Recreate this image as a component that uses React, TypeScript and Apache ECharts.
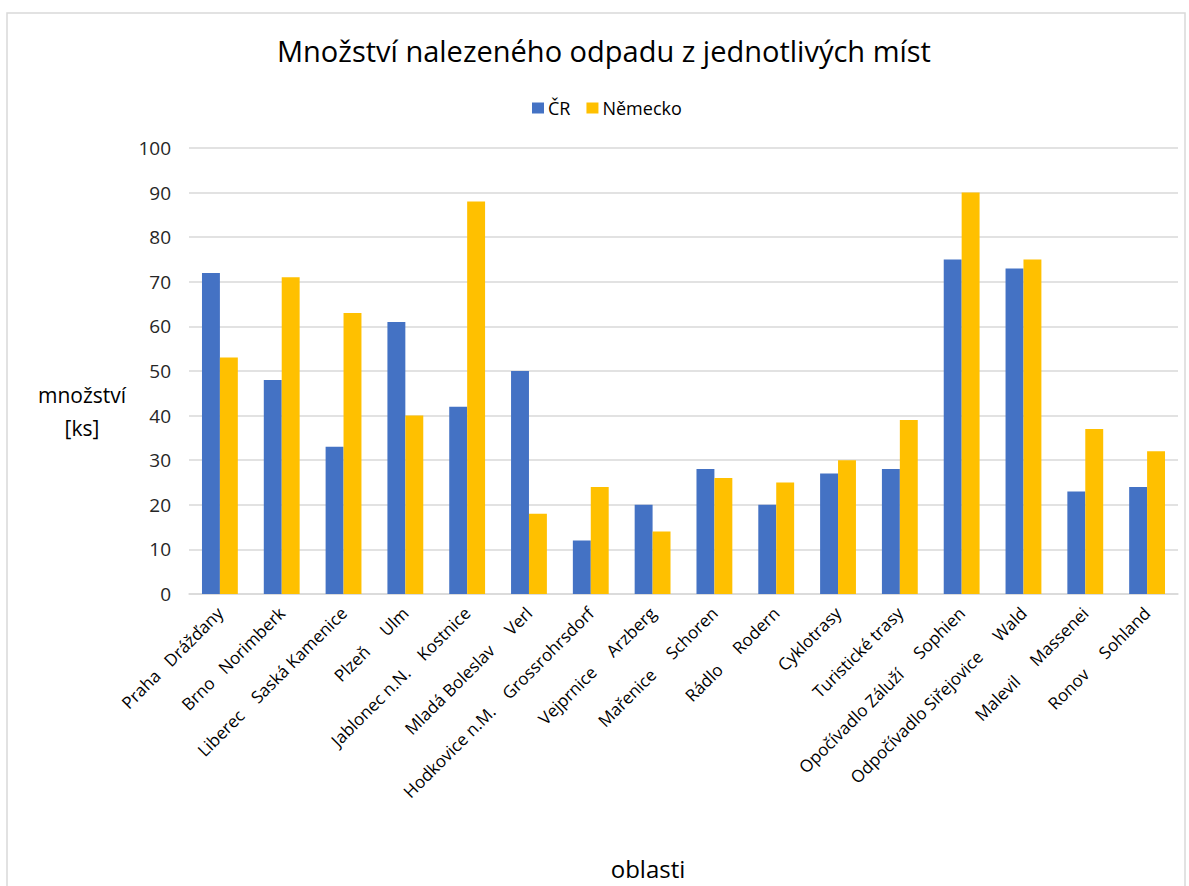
import React, { useEffect, useRef } from "react";
import * as echarts from "echarts";

const categories = [
  "Praha   Drážďany",
  "Brno   Norimberk",
  "Liberec    Saská Kamenice",
  "Plzeň     Ulm",
  "Jablonec n.N.    Kostnice",
  "Mladá Boleslav     Verl",
  "Hodkovice n.M.    Grossrohrsdorf",
  "Vejprnice     Arzberg",
  "Mařenice     Schoren",
  "Rádlo     Rodern",
  "Cyklotrasy",
  "Turistické trasy",
  "Opočívadlo Záluží     Sophien",
  "Odpočívadlo Siřejovice     Wald",
  "Malevil     Massenei",
  "Ronov     Sohland",
];
const crValues = [72, 48, 33, 61, 42, 50, 12, 20, 28, 20, 27, 28, 75, 73, 23, 24];
const deValues = [53, 71, 63, 40, 88, 18, 24, 14, 26, 25, 30, 39, 90, 75, 37, 32];
const seriesNames = ["ČR", "Německo"];
const titleText = "Množství nalezeného odpadu z jednotlivých míst";
const yAxisName = "množství\n[ks]";
const xAxisName = "oblasti";

const FONT = "'Open Sans', 'Noto Sans', sans-serif";

export default function App() {
  const ref = useRef<HTMLDivElement>(null);
  useEffect(() => {
    if (!ref.current) return;
    const chart = echarts.init(ref.current, undefined, { renderer: "svg" });
    chart.setOption({
      animation: false,
      backgroundColor: "#ffffff",
      color: ["#4472C4", "#FFC000"],
      title: {
        text: titleText,
        left: 272,
        top: 31,
        textStyle: { fontFamily: FONT, fontSize: 29, fontWeight: "normal", color: "#000000" },
      },
      legend: {
        data: seriesNames,
        top: 94,
        left: 527,
        itemWidth: 12,
        itemHeight: 11,
        itemGap: 16,
        icon: "rect",
        textStyle: { fontFamily: FONT, fontSize: 18, color: "#000000", padding: [0, 0, 0, -1] },
      },
      grid: { left: 189, right: 11, top: 148, bottom: 292, containLabel: false },
      graphic: [
        {
          type: "rect",
          shape: { x: 7, y: 13, width: 1178, height: 900 },
          style: { fill: "none", stroke: "#d9d9d9", lineWidth: 1.5 },
          silent: true,
        },
        {
          type: "text",
          x: 82,
          y: 411,
          style: {
            text: yAxisName,
            fontFamily: FONT,
            fontSize: 21,
            fill: "#000000",
            align: "center",
            verticalAlign: "middle",
            lineHeight: 33,
          },
        },
        {
          type: "text",
          x: 648,
          y: 868,
          style: {
            text: xAxisName,
            fontFamily: FONT,
            fontSize: 24,
            fill: "#000000",
            align: "center",
            verticalAlign: "middle",
          },
        },
      ],
      xAxis: {
        type: "category",
        data: categories,
        axisLine: { lineStyle: { color: "#d9d9d9", width: 1.5 } },
        axisTick: { show: false },
        axisLabel: {
          interval: 0,
          rotate: 45,
          margin: 16,
          fontFamily: FONT,
          fontSize: 17,
          color: "#000000",
        },
      },
      yAxis: {
        type: "value",
        min: 0,
        max: 100,
        interval: 10,
        axisLine: { show: false },
        axisTick: { show: false },
        splitLine: { lineStyle: { color: "#d9d9d9", width: 1.5 } },
        axisLabel: { fontFamily: FONT, fontSize: 19, color: "#262626", margin: 18 },
      },
      series: [
        {
          name: seriesNames[0],
          type: "bar",
          data: crValues,
          barGap: "0%",
          barCategoryGap: "42%",
        },
        {
          name: seriesNames[1],
          type: "bar",
          data: deValues,
          barGap: "0%",
          barCategoryGap: "42%",
        },
      ],
    });
    return () => chart.dispose();
  }, []);
  return (
    <div
      ref={ref}
      style={{ position: "fixed", left: 0, top: 0, width: 1189, height: 886 }}
    />
  );
}
